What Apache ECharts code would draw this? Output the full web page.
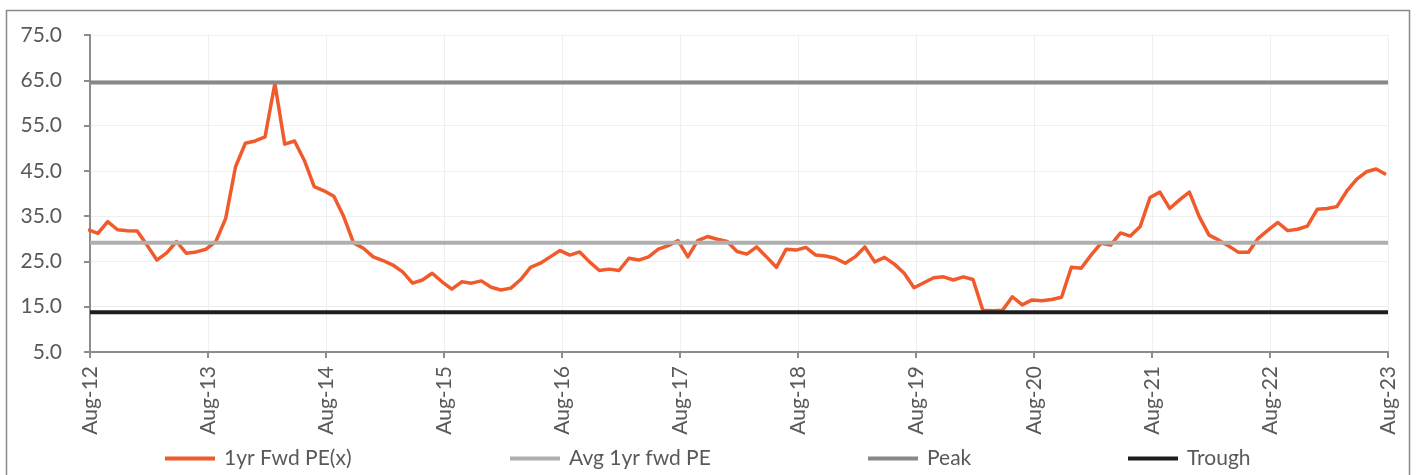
<!DOCTYPE html>
<html>
<head>
<meta charset="utf-8">
<script src="https://cdn.jsdelivr.net/npm/echarts@6/dist/echarts.min.js"></script>
<style>
  html, body { margin: 0; padding: 0; background: #ffffff; }
  #chart { width: 1416px; height: 475px; }
</style>
</head>
<body>
<div id="chart"></div>
<script>
// Month-end 1yr forward PE readings, one per month, starting Jul-12 (index 0) through Jul-23.
const peValues = [
  32.0, 31.2, 33.8, 32.0, 31.8, 31.7, 28.6, 25.3, 26.9, 29.4, 26.8, 27.1, 27.7,
  29.4, 34.5, 45.9, 51.1, 51.6, 52.5, 64.3, 50.9, 51.6, 47.3, 41.5, 40.6,
  39.4, 34.9, 29.1, 27.9, 26.0, 25.2, 24.2, 22.7, 20.2, 20.9, 22.4, 20.5,
  18.9, 20.5, 20.2, 20.7, 19.3, 18.7, 19.1, 21.0, 23.7, 24.6, 26.0, 27.4,
  26.4, 27.1, 24.9, 23.0, 23.3, 23.0, 25.7, 25.3, 26.0, 27.7, 28.5, 29.6,
  26.0, 29.6, 30.5, 29.9, 29.4, 27.2, 26.6, 28.2, 26.0, 23.7, 27.7, 27.5,
  28.1, 26.4, 26.2, 25.7, 24.6, 26.0, 28.2, 24.9, 25.9, 24.4, 22.4, 19.2,
  20.3, 21.4, 21.6, 20.9, 21.6, 21.0, 14.2, 14.1, 14.2, 17.2, 15.4, 16.5,
  16.3, 16.6, 17.1, 23.7, 23.5, 26.4, 29.0, 28.6, 31.3, 30.6, 32.7, 39.1,
  40.3, 36.7, 38.6, 40.3, 34.9, 30.8, 29.7, 28.4, 27.0, 27.0, 30.1, 31.9,
  33.6, 31.8, 32.1, 32.8, 36.5, 36.7, 37.1, 40.5, 43.1, 44.8, 45.4, 44.2
];

// Reference levels
const avgPE = 29.1;
const peakPE = 64.5;
const troughPE = 13.8;

// Axis ticks
const yearLabels = ['Aug-12', 'Aug-13', 'Aug-14', 'Aug-15', 'Aug-16', 'Aug-17',
                    'Aug-18', 'Aug-19', 'Aug-20', 'Aug-21', 'Aug-22', 'Aug-23'];
const yTickValues = [5, 15, 25, 35, 45, 55, 65, 75];

const seriesNames = ['1yr Fwd PE(x)', 'Avg 1yr fwd PE', 'Peak', 'Trough'];
const seriesColors = ['#F15A2B', '#AFAFAF', '#888888', '#1E1E1E'];

// x is measured in months since Aug-12; readings are dated late in the month
const READING_DAY_FRACTION = 0.8;
const lastMonth = (yearLabels.length - 1) * 12;
const peData = peValues.map((v, i) => [i - 1 + READING_DAY_FRACTION, v]);
const flatLine = v => [[0, v], [lastMonth, v]];

const FONT = 'Lato, "Open Sans", sans-serif';
const TEXT_COLOR = '#595959';
const AXIS_COLOR = '#8C8C8C';

function legendFor(name, left) {
  return {
    data: [{ name: name, icon: 'rect' }],
    left: left,
    top: 448,
    padding: 0,
    itemWidth: 50,
    itemHeight: 4,
    itemGap: 0,
    selectedMode: false,
    textStyle: { fontFamily: FONT, fontSize: 21, color: TEXT_COLOR, padding: [0, 0, 0, 4] }
  };
}

const chart = echarts.init(document.getElementById('chart'), null, { renderer: 'canvas' });

chart.setOption({
  animation: false,
  backgroundColor: '#ffffff',
  graphic: [{
    type: 'rect',
    silent: true,
    shape: { x: 6.5, y: 10.5, width: 1403, height: 480 },
    style: { fill: 'none', stroke: '#8A8A8A', lineWidth: 1.5 }
  }],
  grid: { left: 90, right: 28, top: 35, bottom: 123 },
  legend: [
    legendFor(seriesNames[0], 165),
    legendFor(seriesNames[1], 510),
    legendFor(seriesNames[2], 868),
    legendFor(seriesNames[3], 1128)
  ],
  xAxis: {
    type: 'value',
    min: 0,
    max: lastMonth,
    interval: 12,
    axisLine: { show: true, lineStyle: { color: AXIS_COLOR, width: 2 } },
    axisTick: { show: true, length: 6, lineStyle: { color: AXIS_COLOR, width: 2 } },
    axisLabel: {
      rotate: 90,
      margin: 14,
      fontFamily: FONT,
      fontSize: 21,
      color: TEXT_COLOR,
      formatter: v => yearLabels[Math.round(v / 12)]
    },
    splitLine: { show: true, lineStyle: { color: '#EFEFEF', width: 1 } }
  },
  yAxis: {
    type: 'value',
    min: 5,
    max: 75,
    axisLine: { show: true, lineStyle: { color: AXIS_COLOR, width: 2 } },
    axisTick: { show: true, length: 6, customValues: yTickValues, lineStyle: { color: AXIS_COLOR, width: 2 } },
    axisLabel: {
      customValues: yTickValues,
      margin: 28,
      fontFamily: FONT,
      fontSize: 21,
      color: TEXT_COLOR,
      formatter: v => v.toFixed(1)
    },
    splitLine: { show: true, lineStyle: { color: '#EFEFEF', width: 1 } }
  },
  series: [
    {
      name: seriesNames[0], type: 'line', data: peData, clip: true,
      symbol: 'none', color: seriesColors[0],
      lineStyle: { color: seriesColors[0], width: 3.5, join: 'round' }, z: 2
    },
    {
      name: seriesNames[1], type: 'line', data: flatLine(avgPE),
      symbol: 'none', color: seriesColors[1],
      lineStyle: { color: seriesColors[1], width: 4 }, z: 3
    },
    {
      name: seriesNames[2], type: 'line', data: flatLine(peakPE),
      symbol: 'none', color: seriesColors[2],
      lineStyle: { color: seriesColors[2], width: 4 }, z: 3
    },
    {
      name: seriesNames[3], type: 'line', data: flatLine(troughPE),
      symbol: 'none', color: seriesColors[3],
      lineStyle: { color: seriesColors[3], width: 4 }, z: 3
    }
  ]
});
</script>
</body>
</html>
